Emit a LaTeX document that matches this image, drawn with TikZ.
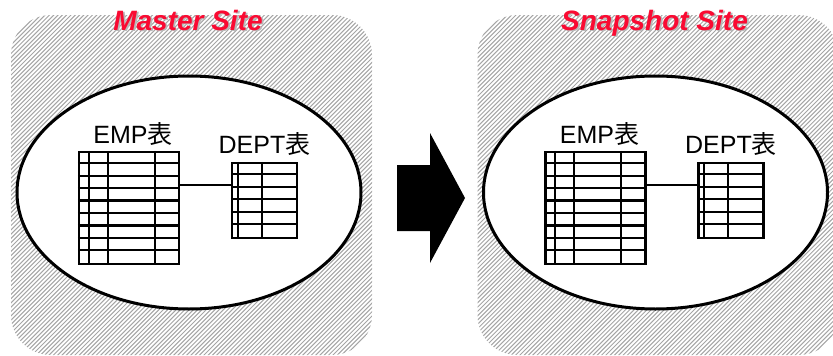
\documentclass[tikz,border=0pt]{standalone}
\usepackage{fontspec}
\setmainfont{Liberation Sans}
\newfontfamily\cjk{Noto Sans CJK JP}
\usetikzlibrary{shapes.geometric,calc}
\definecolor{titlered}{RGB}{250,10,50}
\definecolor{hatchgray}{RGB}{165,165,165}
\definecolor{shadowgray}{RGB}{185,185,185}
\tikzset{
  sitetitle/.style={font=\fontsize{28}{32}\bfseries\itshape\selectfont, inner sep=0pt, anchor=base, text=titlered},
  tablabel/.style={font=\fontsize{25}{28}\selectfont, inner sep=0pt, anchor=base},
  dbzone/.style={ellipse, draw, line width=3pt, fill=white, minimum width=344pt, minimum height=233pt, inner sep=0pt},
  tbl/.style={rectangle, draw, line width=2.4pt, inner sep=0pt},
  gridline/.style={line width=2.2pt},
  link/.style={line width=2.2pt},
}
% title text with a soft grey drop shadow behind it
\newcommand{\shadowed}[1]{%
  \makebox[0pt][l]{\hspace{1.8pt}\raisebox{-1.8pt}{\textcolor{shadowgray}{#1}}}#1}
% one site: hatched rounded panel, ellipse, two tables and their link
\newcommand{\siteblock}[2]{%
  \begin{scope}
    \clip[rounded corners=40pt] (11,15) rectangle (372,355);
    \foreach \i in {-360,-355.7,...,380}
      \draw[hatchgray, line width=1pt] (\i,360) -- ++(360,-360);
  \end{scope}
  \node[sitetitle] (title-#1) at (188,30) {\shadowed{#2}};
  \node[dbzone] (zone-#1) at (189,192.5) {};
  \node[tablabel] (emplab-#1) at (133,143.5) {EMP{\cjk 表}};
  \node[tablabel] (deptlab-#1) at (264.5,153) {DEPT{\cjk 表}};
  % EMP table: 4 columns, 9 rows
  \node[tbl, minimum width=100pt, minimum height=112pt] (emp-#1) at (129,208) {};
  \foreach \c in {11,30,77}
    \draw[gridline] ($(emp-#1.north west)+(\c,0)$) -- ++(0,112);
  \foreach \k in {1,...,8}
    \draw[gridline] ($(emp-#1.north west)+(0,\k*12.44)$) -- ++(100,0);
  % DEPT table: 3 columns, 6 rows
  \node[tbl, minimum width=65pt, minimum height=75pt] (dept-#1) at (264.5,200.5) {};
  \foreach \c in {7,31}
    \draw[gridline] ($(dept-#1.north west)+(\c,0)$) -- ++(0,75);
  \foreach \k in {1,...,5}
    \draw[gridline] ($(dept-#1.north west)+(0,\k*12.5)$) -- ++(65,0);
  \draw[link] ($(emp-#1.north east)+(0,34)$) -- ($(dept-#1.north west)+(0,23)$);
}
\begin{document}
\begin{tikzpicture}[x=1pt,y=-1pt]
  \useasboundingbox (0,0) rectangle (833,356);
  \siteblock{m}{Master Site}
  \begin{scope}[xshift=466.5pt]
    \siteblock{s}{Snapshot Site}
  \end{scope}
  % replication arrow between the sites
  \fill[black] (397,165) -- (430,165) -- (430,133) -- (465,198)
    -- (430,263) -- (430,231) -- (397,231) -- cycle;
\end{tikzpicture}
\end{document}
